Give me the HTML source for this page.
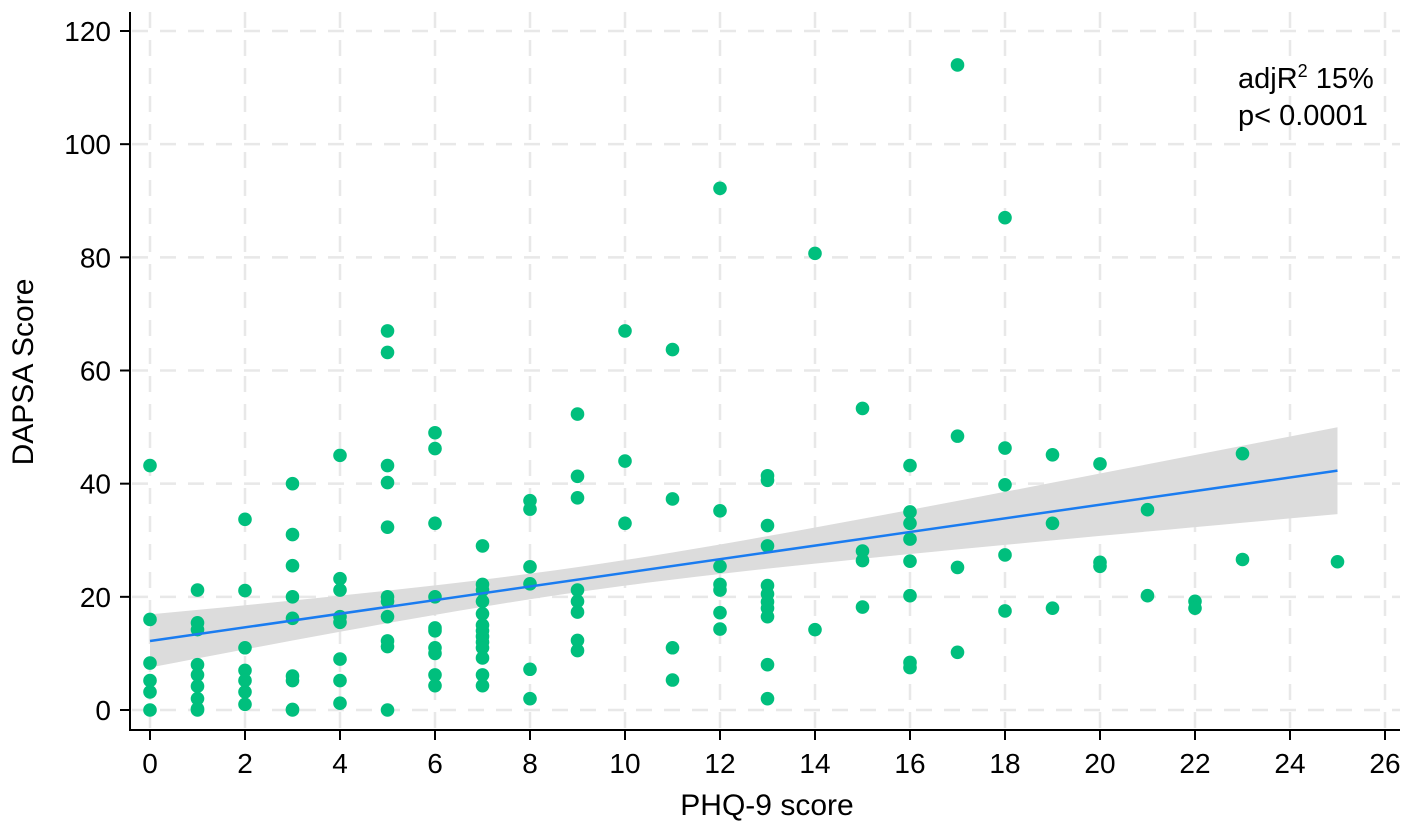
<!DOCTYPE html>
<html><head><meta charset="utf-8"><style>
html,body{margin:0;padding:0;background:#fff;}
svg{display:block;font-family:"Liberation Sans",Arial,sans-serif;}
</style></head><body>
<svg id="chart" width="1418" height="828"></svg>
<script>
const xTicks=[0,2,4,6,8,10,12,14,16,18,20,22,24,26];
const yTicks=[0,20,40,60,80,100,120];
const phq=[0,0,0,0,0,0, 1,1,1,1,1,1,1,1,1, 2,2,2,2,2,2,2, 3,3,3,3,3,3,3,3,3, 4,4,4,4,4,4,4,4,
5,5,5,5,5,5,5,5,5,5,5, 6,6,6,6,6,6,6,6,6,6, 7,7,7,7,7,7,7,7,7,7,7,7,7, 8,8,8,8,8,8,
9,9,9,9,9,9,9,9, 10,10,10, 11,11,11,11, 12,12,12,12,12,12,12, 13,13,13,13,13,13,13,13,13,13,13,
14,14, 15,15,15,15, 16,16,16,16,16,16,16,16, 17,17,17,17, 18,18,18,18,18, 19,19,19, 20,20,20, 21,21, 22,22, 23,23, 25];
const dapsa=[43.2,16,8.3,5.2,3.2,0, 21.2,15.4,14.2,8,6.2,4.2,2,0.2,0, 33.7,21.1,11,7,5.2,3.2,1,
40,31,25.5,20,16.2,6,5.2,0.1,0, 45,23.2,21.2,16.5,15.5,9,5.2,1.2,
67,63.2,43.2,40.2,32.3,20,19.2,16.5,12.2,11.2,0, 49,46.2,33,20,14.5,14,11,10,6.2,4.3,
29,22.2,21.2,19.2,17,15,14,13,12,11,9.2,6.2,4.3, 37,35.5,25.3,22.3,7.2,2,
52.3,41.3,37.5,21.2,19.2,17.3,12.3,10.5, 67,44,33, 63.7,37.3,11,5.3,
92.2,35.2,25.4,22.2,21.2,17.2,14.3, 41.4,40.6,32.6,29,22,20.5,19.1,18,16.5,8,2,
80.7,14.2, 53.3,28.1,26.4,18.2, 43.2,35,33,30.2,26.3,20.2,8.4,7.5, 114,48.4,25.2,10.2,
87,46.3,39.8,27.4,17.5, 45.1,33,18, 43.5,26.1,25.4, 35.4,20.2, 19.2,18, 45.3,26.6, 26.2];
const fitStart=[0,12.2];
const fitEnd=[25,42.3];
const NS='http://www.w3.org/2000/svg';
const svg=document.getElementById('chart');
const X0=150,XS=47.5,Y0=710,YS=679/120;
const sx=v=>X0+v*XS, sy=v=>Y0-v*YS;
function mk(t,a,p){const e=document.createElementNS(NS,t);for(const k in a)e.setAttribute(k,a[k]);(p||svg).appendChild(e);return e;}
const grid=mk('g',{});


xTicks.forEach(t=>mk('line',{x1:sx(t),x2:sx(t),y1:12,y2:728,stroke:'#e8e8e8','stroke-width':2.5,'stroke-dasharray':'16,12'},grid));
yTicks.forEach(t=>mk('line',{x1:132,x2:1400,y1:sy(t),y2:sy(t),stroke:'#e8e8e8','stroke-width':2.5,'stroke-dasharray':'16,12'},grid));
const slope=(fitEnd[1]-fitStart[1])/(fitEnd[0]-fitStart[0]);
const fit=x=>fitStart[1]+slope*(x-fitStart[0]);
const hw=x=>Math.sqrt(4.9+0.211*(x-9)*(x-9));
let up=[],lo=[];
for(let i=0;i<=50;i++){const x=fitStart[0]+(fitEnd[0]-fitStart[0])*i/50;up.push(sx(x)+','+sy(fit(x)+hw(x)));lo.unshift(sx(x)+','+sy(fit(x)-hw(x)));}
const band=mk('polygon',{points:up.concat(lo).join(' '),fill:'#dcdcdc'});


const pts=mk('g',{});


phq.forEach((x,i)=>{const c=mk('circle',{cx:sx(x),cy:sy(dapsa[i]),r:6.8,fill:'#00BF7D'},pts);

});
const ln=mk('line',{x1:sx(fitStart[0]),y1:sy(fitStart[1]),x2:sx(fitEnd[0]),y2:sy(fitEnd[1]),stroke:'#1a7cf0','stroke-width':2.5});


const ax=mk('g',{});


mk('line',{x1:130,x2:130,y1:12,y2:731,stroke:'#000','stroke-width':2},ax);
mk('line',{x1:129,x2:1400,y1:730,y2:730,stroke:'#000','stroke-width':2},ax);
xTicks.forEach(t=>{mk('line',{x1:sx(t),x2:sx(t),y1:730,y2:740,stroke:'#000','stroke-width':2},ax);
const tx=mk('text',{x:sx(t),y:773,'text-anchor':'middle','font-size':28,fill:'#000'},ax);tx.textContent=t;

});
yTicks.forEach(t=>{mk('line',{x1:120,x2:130,y1:sy(t),y2:sy(t),stroke:'#000','stroke-width':2},ax);
const tx=mk('text',{x:111,y:sy(t)+10,'text-anchor':'end','font-size':28,fill:'#000'},ax);tx.textContent=t;

});
</script>
<div style="position:absolute;left:0;top:0;width:1418px;height:828px;pointer-events:none">
<svg width="1418" height="828" style="font-family:'Liberation Sans',Arial,sans-serif">
<text x="767" y="815" text-anchor="middle" font-size="30">PHQ-9 score</text>
<text transform="translate(33,372) rotate(-90)" text-anchor="middle" font-size="30">DAPSA Score</text>
<text x="1238" y="88" font-size="29">adjR<tspan dy="-11" font-size="18">2</tspan><tspan dy="11"> 15%</tspan></text>
<text x="1238" y="125" font-size="29">p&lt; 0.0001</text>
</svg></div>
</body></html>
